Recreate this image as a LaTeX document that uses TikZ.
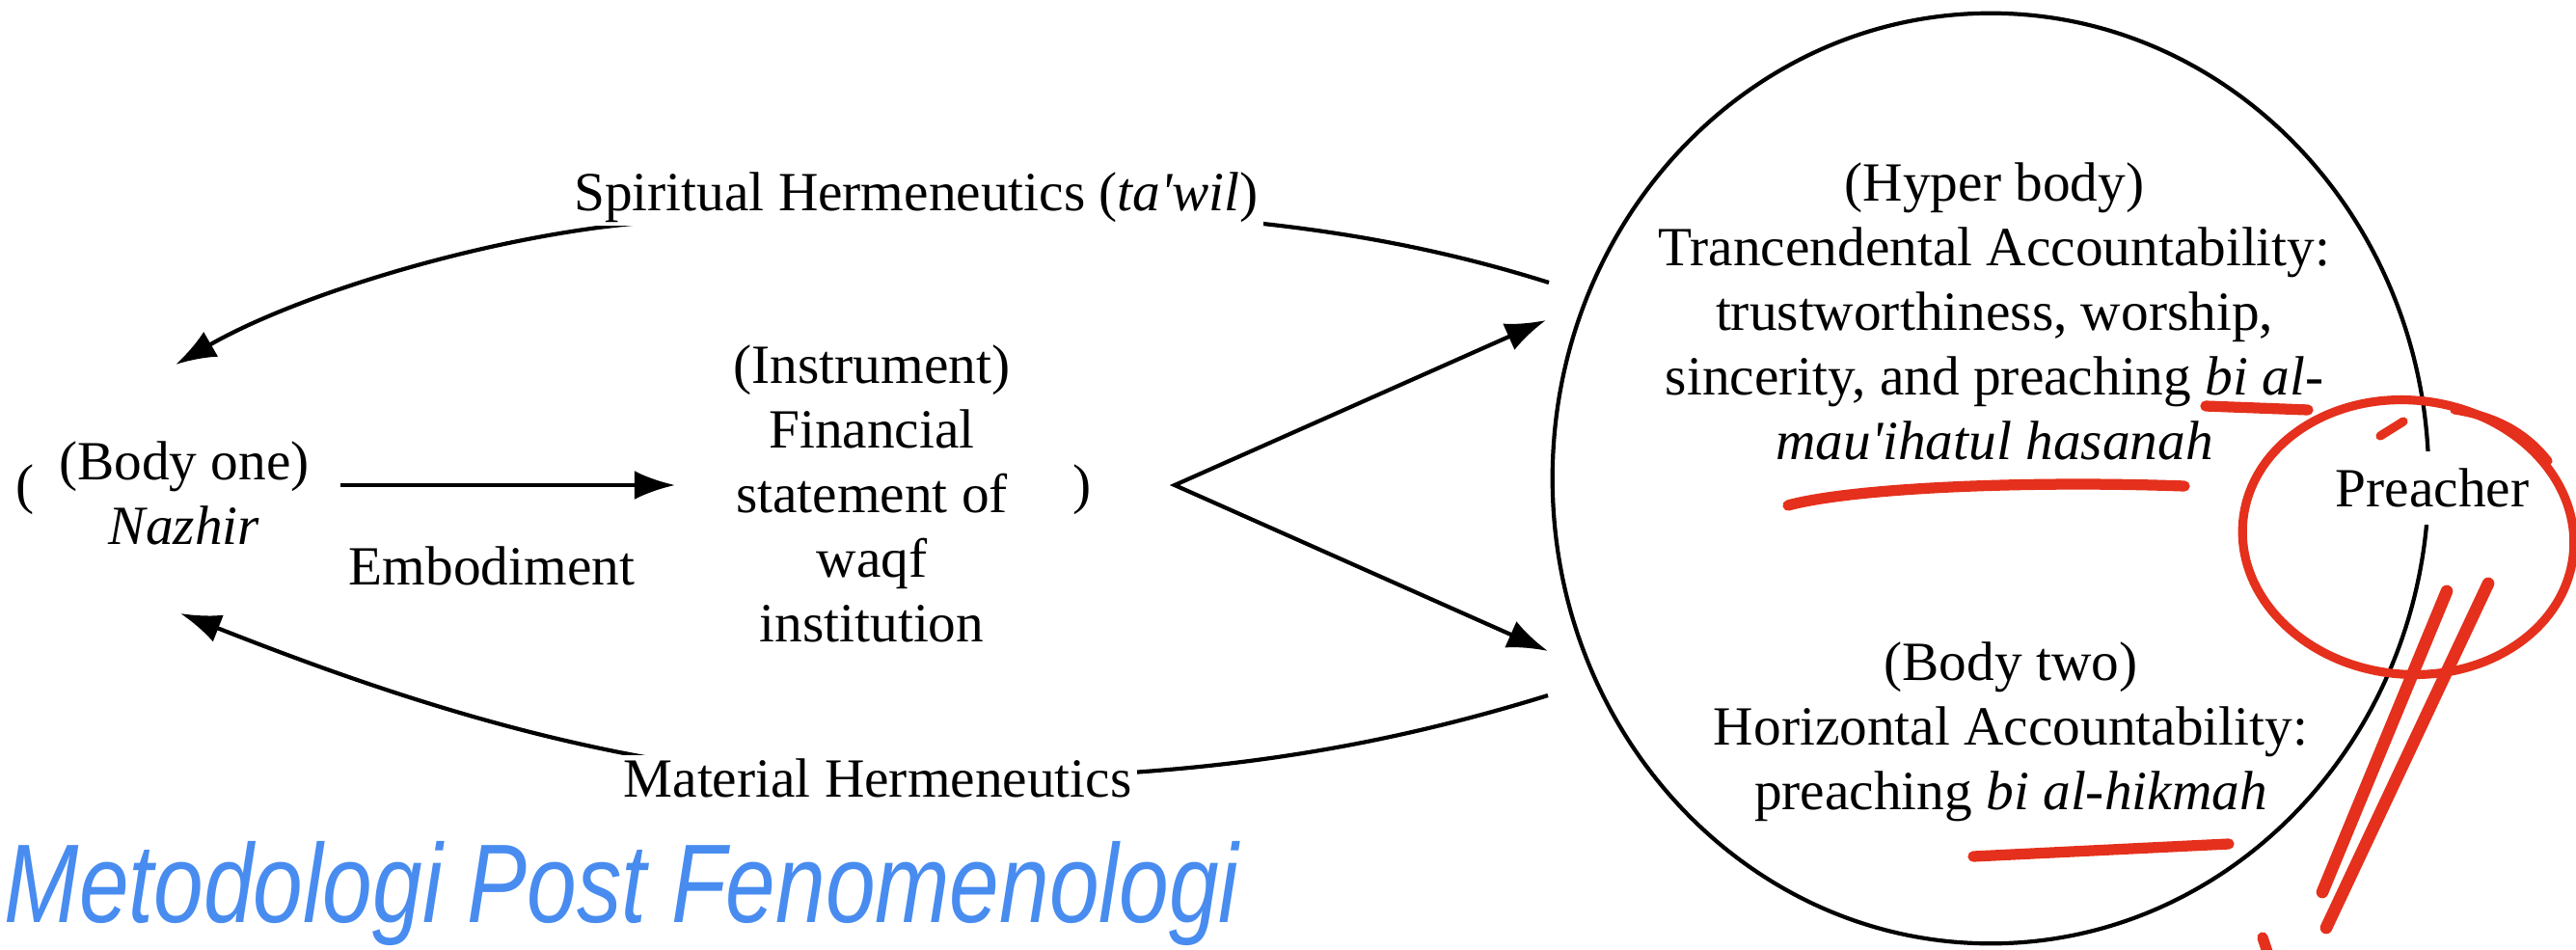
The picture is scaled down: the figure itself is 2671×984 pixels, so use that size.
\documentclass[tikz,border=0pt]{standalone}
\usepackage{fontspec}
\setmainfont{Liberation Serif}
\newfontfamily\handfont{Liberation Sans}
\usetikzlibrary{arrows.meta,shapes.geometric}
\definecolor{inkred}{RGB}{228,48,28}
\definecolor{inkblue}{RGB}{72,140,240}
\begin{document}
\begin{tikzpicture}[x=0.01cm,y=-0.01cm,
  txt/.style={font=\fontsize{16.3}{19.1}\selectfont, inner sep=0pt, align=center},
  lbl/.style={font=\fontsize{16.3}{19.1}\selectfont, fill=white, inner xsep=1.5pt, inner ysep=1pt},
  arr/.style={-{Latex[length=12pt,width=8.5pt]}, line width=1.2pt},
  redpen/.style={inkred, line width=3.2pt, line cap=round, line join=round},
]
\useasboundingbox (0,0) rectangle (2671,984);
\clip (0,0) rectangle (2671,984);

% big ellipse
\node[draw, line width=1.2pt, ellipse, minimum width=9.08cm, minimum height=9.64cm, inner sep=0pt] (E) at (2064,496) {};

% texts
\node[txt] (hyper) at (2068,323) {(Hyper body)\\Trancendental Accountability:\\trustworthiness, worship,\\sincerity, and preaching \textit{bi al-}\\\textit{mau\textquotesingle ihatul hasanah}};
\node[txt] (two) at (2085,759) {(Body two)\\Horizontal Accountability:\\preaching \textit{bi al-hikmah}};
\node[txt, fill=white, inner xsep=1pt, inner ysep=5pt] (pr) at (2522,506) {Preacher};

\node[txt] (b1) at (191,511) {(Body one)\\\textit{Nazhir}};
\node[txt] (lp) at (26,508) {(};
\node[txt] (ins) at (904,512) {(Instrument)\\Financial\\statement of\\waqf\\institution};
\node[txt] (rp) at (1122,508) {)};
\node[txt] (emb) at (510,587) {Embodiment};

% coordinates
\coordinate (emb1) at (353,503);
\coordinate (emb2) at (700,503);
\coordinate (vtx) at (1218,503);
\coordinate (tU) at (1603,332);
\coordinate (tL) at (1605,675);
\coordinate (sU) at (1606,293);
\coordinate (aU) at (182,378);
\coordinate (sL) at (1605,721);
\coordinate (aL) at (187,636);

% connectors
\draw[arr] (emb1) -- (emb2);
\draw[line width=1.2pt, {Latex[length=12pt,width=8.5pt]}-{Latex[length=12pt,width=8.5pt]}] (tU) -- (vtx) -- (tL);
\draw[arr] (sU) .. controls (1400,228) and (1200,216) .. (950,218) .. controls (800,219) and (700,226) .. (620,236) .. controls (470,256) and (300,310) .. (aU);
\draw[arr] (sL) .. controls (1350,800) and (1150,808) .. (910,808) .. controls (650,808) and (400,720) .. (aL);

% labels on the curves
\node[lbl, anchor=base] (spir) at (950,218) {Spiritual Hermeneutics (\textit{ta\textquotesingle wil})};
\node[lbl] (mat) at (910,807) {Material Hermeneutics};

% red pen annotations
\draw[redpen] (2287,421) -- (2393,425);
\draw[redpen] (1854,524) .. controls (1920,506) and (2100,498) .. (2265,504);
\draw[redpen] (2046,888) -- (2311,875);
\draw[redpen, line width=2.6pt] (2497,557) ellipse [x radius=1.72cm, y radius=1.42cm, rotate=-6];
\draw[redpen, line width=2.6pt] (2468,452) -- (2492,437);
\draw[redpen, line width=2.6pt] (2545,425) .. controls (2590,432) and (2620,450) .. (2642,478);
\draw[redpen, line width=3.6pt] (2537,613) -- (2408,925);
\draw[redpen, line width=3.6pt] (2580,605) -- (2412,962);
\draw[redpen] (2346,972) -- (2352,990);

% blue handwriting
\node[anchor=base west, inner sep=0pt, text=inkblue, font=\handfont\itshape\fontsize{33}{33}\selectfont] (hand) at (4,956) {\scalebox{0.8}[1]{Metodologi Post Fenomenologi}};
\end{tikzpicture}
\end{document}
